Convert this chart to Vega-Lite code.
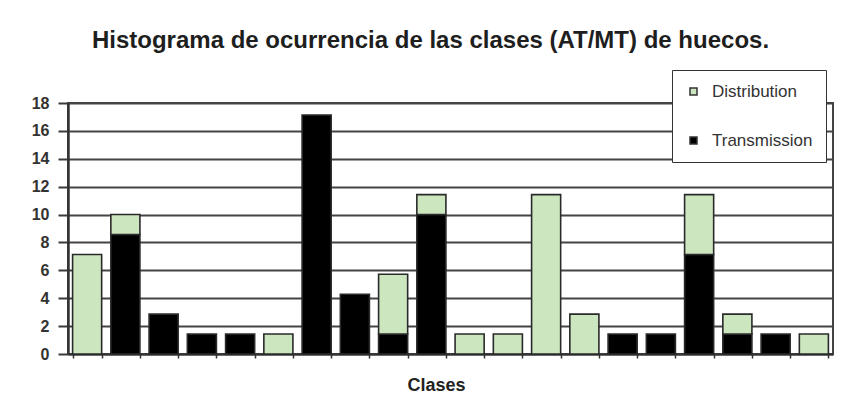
{
  "$schema": "https://vega.github.io/schema/vega-lite/v6.json",
  "autosize": "none",
  "width": 765,
  "height": 251,
  "padding": {"left": 68, "top": 103, "right": 25, "bottom": 55},
  "background": "#ffffff",
  "title": {
    "text": "Histograma de ocurrencia de las clases (AT/MT) de huecos.",
    "font": "Liberation Sans",
    "fontSize": 24,
    "fontWeight": "bold",
    "color": "#1e1e1e",
    "anchor": "middle",
    "frame": "group",
    "baseline": "alphabetic",
    "offset": -2,
    "dx": -20
  },
  "data": {
    "values": [
      {"clase": 1, "tipo": "Distribution", "valor": 7.14},
      {"clase": 2, "tipo": "Transmission", "valor": 8.57},
      {"clase": 2, "tipo": "Distribution", "valor": 1.43},
      {"clase": 3, "tipo": "Transmission", "valor": 2.86},
      {"clase": 4, "tipo": "Transmission", "valor": 1.43},
      {"clase": 5, "tipo": "Transmission", "valor": 1.43},
      {"clase": 6, "tipo": "Distribution", "valor": 1.43},
      {"clase": 7, "tipo": "Transmission", "valor": 17.14},
      {"clase": 8, "tipo": "Transmission", "valor": 4.29},
      {"clase": 9, "tipo": "Transmission", "valor": 1.43},
      {"clase": 9, "tipo": "Distribution", "valor": 4.29},
      {"clase": 10, "tipo": "Transmission", "valor": 10.0},
      {"clase": 10, "tipo": "Distribution", "valor": 1.43},
      {"clase": 11, "tipo": "Distribution", "valor": 1.43},
      {"clase": 12, "tipo": "Distribution", "valor": 1.43},
      {"clase": 13, "tipo": "Distribution", "valor": 11.43},
      {"clase": 14, "tipo": "Distribution", "valor": 2.86},
      {"clase": 15, "tipo": "Transmission", "valor": 1.43},
      {"clase": 16, "tipo": "Transmission", "valor": 1.43},
      {"clase": 17, "tipo": "Transmission", "valor": 7.14},
      {"clase": 17, "tipo": "Distribution", "valor": 4.29},
      {"clase": 18, "tipo": "Transmission", "valor": 1.43},
      {"clase": 18, "tipo": "Distribution", "valor": 1.43},
      {"clase": 19, "tipo": "Transmission", "valor": 1.43},
      {"clase": 20, "tipo": "Distribution", "valor": 1.43}
    ]
  },
  "mark": {"type": "bar", "stroke": "#2a2a2a", "strokeWidth": 1.6},
  "encoding": {
    "x": {
      "field": "clase",
      "type": "ordinal",
      "scale": {"paddingInner": 0.24, "paddingOuter": 0.12},
      "axis": {
        "title": "Clases",
        "titleFont": "Liberation Sans",
        "titleFontSize": 18,
        "titleFontWeight": "bold",
        "titleColor": "#222222",
        "titlePadding": 18,
        "titleX": 368,
        "labels": false,
        "tickBand": "extent",
        "tickSize": 4,
        "tickColor": "#333333",
        "tickWidth": 1.5,
        "domainColor": "#333333",
        "domainWidth": 2
      }
    },
    "y": {
      "field": "valor",
      "type": "quantitative",
      "aggregate": "sum",
      "stack": "zero",
      "scale": {"domain": [0, 18], "nice": false},
      "axis": {
        "title": null,
        "values": [0, 2, 4, 6, 8, 10, 12, 14, 16, 18],
        "labelFont": "Liberation Sans",
        "labelFontSize": 16,
        "labelFontWeight": "bold",
        "labelColor": "#333333",
        "labelPadding": 9,
        "tickSize": 10,
        "tickColor": "#3a3a3a",
        "tickWidth": 2,
        "domainColor": "#333333",
        "domainWidth": 2.5,
        "grid": true,
        "gridColor": "#444444",
        "gridWidth": 2
      }
    },
    "color": {
      "field": "tipo",
      "type": "nominal",
      "scale": {"domain": ["Distribution", "Transmission"], "range": ["#cce6bf", "#000000"]},
      "legend": {
        "title": null,
        "orient": "none",
        "legendX": 604,
        "legendY": -33,
        "direction": "vertical",
        "fillColor": "#ffffff",
        "strokeColor": "#333333",
        "padding": 13,
        "rowPadding": 31,
        "symbolType": "square",
        "symbolSize": 49,
        "symbolStrokeColor": "#333333",
        "symbolStrokeWidth": 1.5,
        "labelOffset": 10,
        "labelFont": "Liberation Sans",
        "labelFontSize": 17,
        "labelColor": "#333333"
      }
    },
    "order": {"field": "tipo", "sort": "descending"}
  },
  "config": {
    "view": {"stroke": "#444444", "strokeWidth": 2}
  }
}
